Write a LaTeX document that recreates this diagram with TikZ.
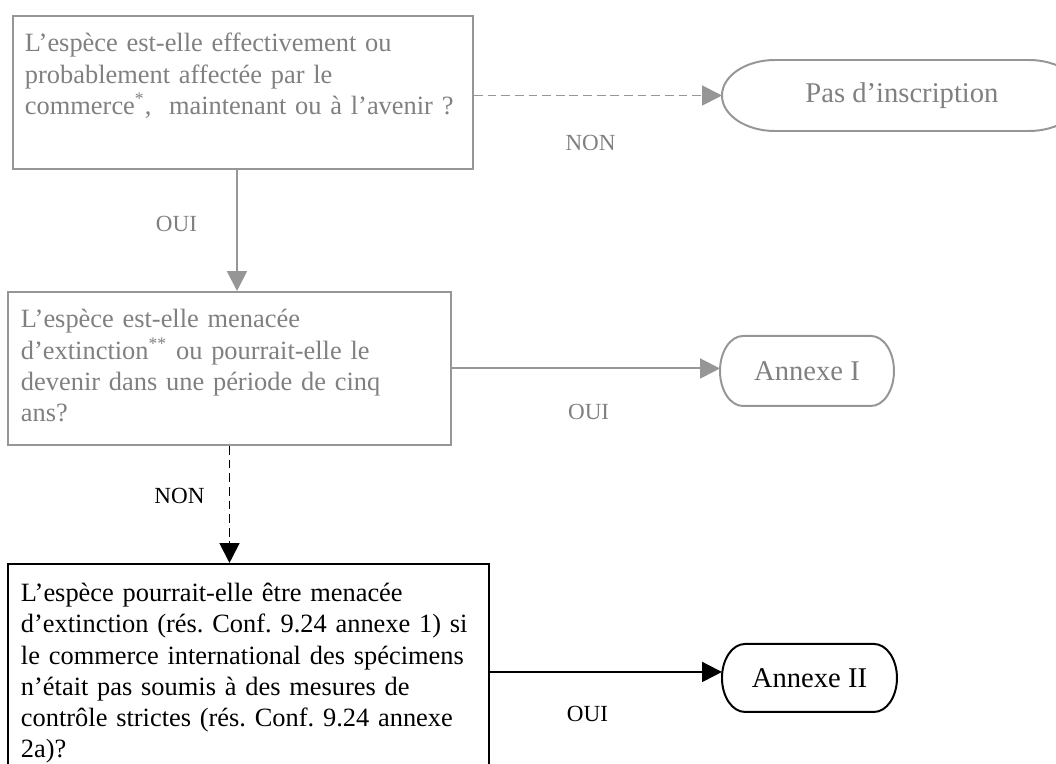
\documentclass[tikz,border=0pt]{standalone}
\usepackage{fontspec}
\setmainfont{Liberation Serif}
\frenchspacing
\usetikzlibrary{positioning, arrows.meta}
\newdimen\pxu
\pxu=0.4545pt
\definecolor{linegray}{RGB}{150,150,150}
\definecolor{textgray}{RGB}{128,128,128}
\tikzstyle{graybox} = [rectangle, draw=linegray, line width=0.9pt, text=textgray, align=left, inner xsep=12\pxu, inner ysep=0pt, font=\fontsize{12}{14.1}\selectfont]
\tikzstyle{blackbox} = [rectangle, draw=black, line width=0.9pt, text=black, align=left, inner xsep=13\pxu, inner ysep=0pt, font=\fontsize{12}{14.1}\selectfont]
\tikzstyle{grayend} = [rectangle, outer sep=0pt, text=textgray, font=\fontsize{13}{15.6}\selectfont]
\tikzstyle{blackend} = [rectangle, outer sep=0pt, text=black, font=\fontsize{13}{15.6}\selectfont]
\tikzstyle{grayarrow} = [draw=linegray, line width=0.9pt, -{Triangle[length=9pt, width=9pt]}]
\tikzstyle{blackarrow} = [draw=black, line width=0.9pt, -{Triangle[length=9pt, width=9pt]}]
\tikzstyle{graylabel} = [inner sep=0pt, text=textgray, font=\fontsize{10.5}{12}\selectfont]
\tikzstyle{blacklabel} = [inner sep=0pt, text=black, font=\fontsize{10.5}{12}\selectfont]
% outline of a terminator: options, node, arc x radius, arc y radius
\newcommand{\termoutline}[4]{%
  \draw[#1] ([xshift=#3]#2.north west) -- ([xshift=-#3]#2.north east)
    arc[start angle=90, end angle=-90, x radius=#3, y radius=#4]
    -- ([xshift=#3]#2.south west)
    arc[start angle=270, end angle=90, x radius=#3, y radius=#4] -- cycle;}

\begin{document}
\begin{tikzpicture}[x=0.4545pt, y=-0.4545pt]
    \useasboundingbox (0,0) rectangle (1056,763);
    \clip (0,0) rectangle (1056,763);

    \node (trade) [graybox, anchor=north west, text width=436\pxu, text height=36\pxu, text depth=117\pxu] at (12,15)
        {\mbox{L’espèce est-elle effectivement ou}\\\mbox{probablement affectée par le}\\\mbox{commerce\textsuperscript{*}, \ maintenant ou à l’avenir ?}};
    \node (threat) [graybox, inner xsep=13\pxu, below=121\pxu of trade, xshift=-13.5\pxu, text width=417\pxu, text height=36\pxu, text depth=117\pxu]
        {\mbox{L’espèce est-elle menacée}\\\mbox{d’extinction\textsuperscript{**} ou pourrait-elle le}\\\mbox{devenir dans une période de cinq}\\\mbox{ans?}};
    \node (control) [blackbox, below=117\pxu of threat, xshift=19\pxu, text width=455\pxu, text height=38\pxu, text depth=178\pxu]
        {\mbox{L’espèce pourrait-elle être menacée}\\\mbox{d’extinction (rés. Conf. 9.24 annexe 1) si}\\\mbox{le commerce international des spécimens}\\\mbox{n’était pas soumis à des mesures de}\\\mbox{contrôle strictes (rés. Conf. 9.24 annexe}\\\mbox{2a)?}};
    \node (noListing) [grayend, right=248\pxu of trade, yshift=-3\pxu, minimum width=360\pxu, minimum height=71\pxu] {Pas d’inscription};
    \node (appI) [grayend, right=268\pxu of threat, yshift=-2.5\pxu, minimum width=174\pxu, minimum height=70\pxu] {Annexe I};
    \node (appII) [blackend, right=232\pxu of control, yshift=-6\pxu, minimum width=175\pxu, minimum height=68\pxu] {Annexe II};

    \termoutline{linegray, line width=0.9pt}{noListing}{53\pxu}{35.5\pxu}
    \termoutline{linegray, line width=0.9pt}{appI}{23\pxu}{35\pxu}
    \termoutline{black, line width=0.9pt}{appII}{23\pxu}{34\pxu}

    \draw [grayarrow] ([xshift=-6\pxu]trade.south) -- node[graylabel, pos=0.45, left=39\pxu] {OUI} ([xshift=-6\pxu]trade.south |- threat.north);
    \draw [blackarrow, dash pattern=on 4pt off 2.2pt] (threat.south) -- node[blacklabel, pos=0.43, left=24\pxu] {NON} (threat.south |- control.north);
    \draw [grayarrow, dash pattern=on 4pt off 2.2pt] (trade.east |- noListing.west) -- node[graylabel, pos=0.47, below=39\pxu] {NON} (noListing.west);
    \draw [grayarrow] (threat.east) -- node[graylabel, pos=0.51, below=35\pxu] {OUI} (threat.east -| appI.west);
    \draw [blackarrow] (control.east) -- node[blacklabel, pos=0.42, below=33\pxu] {OUI} (control.east -| appII.west);
\end{tikzpicture}
\end{document}
